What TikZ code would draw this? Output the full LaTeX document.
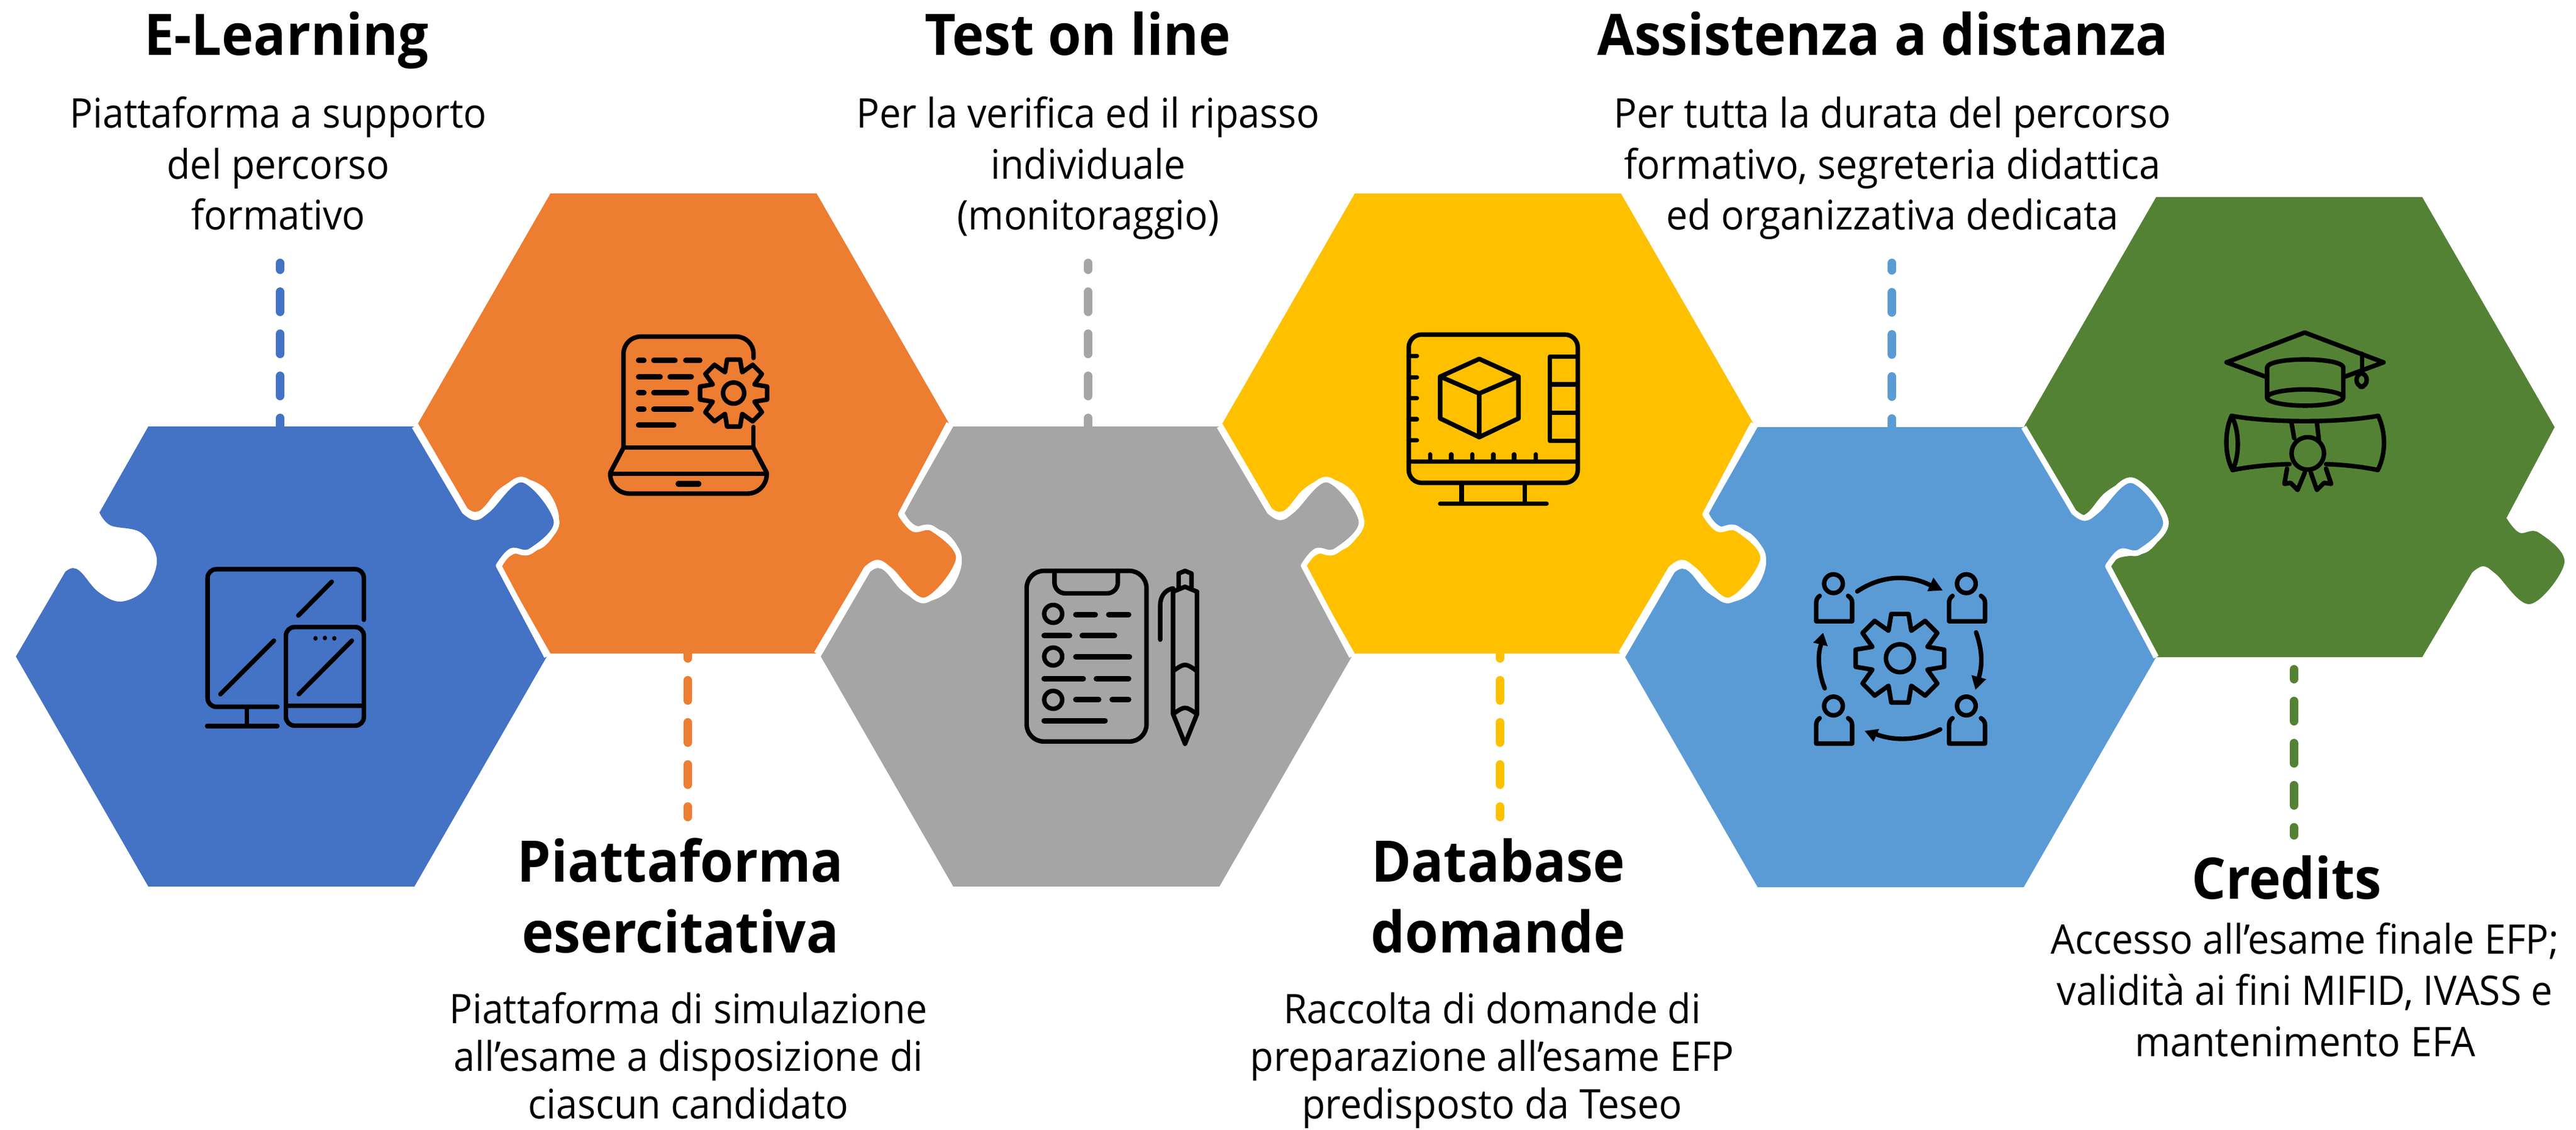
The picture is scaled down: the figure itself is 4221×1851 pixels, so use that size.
\documentclass[tikz,border=0pt]{standalone}
\usepackage{fontspec}
\setmainfont[FakeStretch=0.94]{Open Sans}
\definecolor{cblue}{HTML}{4472C4}
\definecolor{corange}{HTML}{ED7D31}
\definecolor{cgray}{HTML}{A5A5A5}
\definecolor{cyellow}{HTML}{FFC000}
\definecolor{cteal}{HTML}{5B9BD5}
\definecolor{cgreen}{HTML}{548235}
\tikzset{
  icon/.style={draw=black,line width=2.1pt,line cap=round,line join=round},
  dashline/.style={line width=4pt,line cap=round,dash pattern=on 33*0.2845pt off 36*0.2845pt},
  headtext/.style={font=\fontsize{26.7pt}{33pt}\selectfont\bfseries,align=center,inner sep=0pt},
  bodytext/.style={font=\fontsize{19pt}{23.8pt}\selectfont,align=center,inner sep=0pt},
  bodytight/.style={font=\fontsize{19pt}{22.3pt}\selectfont,align=center,inner sep=0pt},
}
\newcommand\bfirst{\rule{0pt}{15pt}}
\newcommand\blast{\rule[-5pt]{0pt}{5pt}}
\newcommand\hfirst{\rule{0pt}{20pt}}
\newcommand\hlast{\rule[-6pt]{0pt}{6pt}}
\def\tabpts{(300,-238) (318,-228) (339,-241) (395,-290) (451,-222) (409,-173) (377,-173) (356,-149)}
\newcommand\piecefill[4]{% cx cy sy colour
  \fill[#4,shift={(#1,#2)},yscale=#3] (-218,-377) -- (218,-377) -- plot[smooth,tension=0.6] coordinates {\tabpts} -- (435,0) -- (218,377) -- (-218,377) -- (-435,0)
   -- plot[smooth,tension=0.6] coordinates {(-354,-139) (-342,-145) (-328,-138) (-300,-106) (-263,-90) (-222,-111) (-204,-160) (-230,-203) (-280,-215) (-298,-236)} -- cycle;}
\newcommand\piecetab[3]{% cx cy sy : white outline along tab edge
  \draw[white,line width=2.6pt,line join=round,shift={(#1,#2)},yscale=#3] (218,-377) -- plot[smooth,tension=0.6] coordinates {\tabpts} -- (435,0);}
\newcommand\gearicon[3]{% cx cy R
  \draw[icon] ([shift={(#1,#2)}]-11:#3) \foreach \a in {0,45,...,315} { -- ([shift={(#1,#2)}]\a-11:#3) -- ([shift={(#1,#2)}]\a+11:#3) -- ([shift={(#1,#2)}]\a+22.5:#3*0.66) } -- cycle;
  \draw[icon] (#1,#2) circle[radius=#3*0.31];}
\begin{document}
\begin{tikzpicture}[x=0.1mm,y=-0.1mm]
\useasboundingbox (0,0) rectangle (4221,1851);
% named anchors
\coordinate (hexA) at (461,1076);
\coordinate (hexB) at (1120,694);
\coordinate (hexC) at (1780,1076);
\coordinate (hexD) at (2438,694);
\coordinate (hexE) at (3098,1077);
\coordinate (hexF) at (3751,700);
\coordinate (dashAtop) at (459,431);  \coordinate (dashAbot) at (459,699);
\coordinate (dashBtop) at (1127,1071); \coordinate (dashBbot) at (1127,1339);
\coordinate (dashCtop) at (1783,431); \coordinate (dashCbot) at (1783,699);
\coordinate (dashDtop) at (2458,1071); \coordinate (dashDbot) at (2458,1339);
\coordinate (dashEtop) at (3100,431); \coordinate (dashEbot) at (3100,700);
\coordinate (dashFtop) at (3759,1097); \coordinate (dashFbot) at (3759,1369);
% connectors
\draw[dashline,cblue,dash phase=19*0.2845pt] (dashAbot) -- (dashAtop);
\draw[dashline,corange,dash phase=25*0.2845pt] (dashBtop) -- (dashBbot);
\draw[dashline,cgray,dash phase=19*0.2845pt] (dashCbot) -- (dashCtop);
\draw[dashline,cyellow,dash phase=25*0.2845pt] (dashDtop) -- (dashDbot);
\draw[dashline,cteal,dash phase=19*0.2845pt] (dashEbot) -- (dashEtop);
\draw[dashline,cgreen,dash phase=17*0.2845pt] (dashFtop) -- (dashFbot);
% pieces, right to left
\piecefill{3751}{700}{-1}{cgreen}
\piecefill{3098}{1077}{1}{cteal}
\piecetab{3098}{1077}{1}
\piecefill{2438}{694}{-1}{cyellow}
\piecetab{2438}{694}{-1}
\piecefill{1780}{1076}{1}{cgray}
\piecetab{1780}{1076}{1}
\piecefill{1120}{694}{-1}{corange}
\piecetab{1120}{694}{-1}
\piecefill{461}{1076}{1}{cblue}
\piecetab{461}{1076}{1}
% blue icon
\begin{scope}[shift={(0,650)},x=0.07015mm,y=-0.0542mm]
 \draw[icon,rounded corners=4pt] (850,675) -- (850,522) -- (485,522) -- (485,938) -- (648,938);
 \draw[icon] (577,938) -- (577,996) (484,996) -- (648,996);
 \draw[icon] (775,560) -- (697,662) (640,738) -- (515,900);
 \draw[icon,rounded corners=4pt] (668,697) rectangle (850,995);
 \draw[icon] (668,935) -- (850,935) (822,738) -- (698,900);
 \fill (737,731) circle[x radius=5,y radius=7] (759,730) circle[x radius=5,y radius=7] (781,731) circle[x radius=5,y radius=7];
\end{scope}
% gray icon
\begin{scope}[shift={(1300,650)},x=0.07015mm,y=-0.0542mm]
 \draw[icon,rounded corners=8pt] (545,527) rectangle (825,1043);
 \draw[icon,rounded corners=5pt] (610,527) -- (610,595) -- (758,595) -- (758,527);
 \foreach \yy in {657,786,917} \draw[icon] (607,\yy) circle[x radius=21,y radius=27];
 \draw[icon,line width=2.6pt] (660,659) -- (705,659) (737,659) -- (783,659) (586,723) -- (645,723) (675,723) -- (750,723)
   (660,787) -- (785,787) (586,853) -- (677,853) (708,853) -- (783,853) (660,916) -- (713,916) (745,916) -- (783,916) (586,980) -- (728,980);
 \draw[icon] (887,960) -- (887,590) -- (915,575) -- (943,590) -- (943,960) -- (915,1050) -- cycle;
 \draw[icon] (887,830) .. controls (915,805) .. (943,830) (887,960) .. controls (915,935) .. (943,960);
 \draw[icon] (900,578) -- (900,535) -- (915,527) -- (930,535) -- (930,578);
 \draw[icon] (887,580) .. controls (865,585) and (857,610) .. (857,630) -- (857,735);
\end{scope}
% orange icon
\begin{scope}[shift={(980,540)},x=0.0333mm,y=-0.0333mm]
 \draw[icon,rounded corners=8pt] (765,140) -- (765,35) -- (125,35) -- (125,582);
 \draw[icon] (125,582) -- (765,582) (765,480) -- (765,582);
 \draw[icon] (125,582) -- (60,705) (765,582) -- (830,705);
 \draw[icon] (60,710) -- (830,710);
 \draw[icon,rounded corners=9pt] (60,710) -- (60,808) -- (830,808) -- (830,710);
 \draw[icon,line width=2.6pt] (395,760) -- (495,760)
   (200,152) -- (225,152) (275,152) -- (378,152) (432,152) -- (500,152)
   (200,234) -- (305,234) (355,234) -- (458,234)
   (200,311) -- (225,311) (275,311) -- (435,311)
   (200,393) -- (225,393) (275,393) -- (458,393)
   (200,471) -- (372,471);
 \gearicon{667}{313}{168}
\end{scope}
% yellow icon
\begin{scope}[shift={(2290,530)},x=0.0333mm,y=-0.0333mm]
 \draw[icon,rounded corners=6pt] (55,55) rectangle (887,785);
 \draw[icon] (55,680) -- (887,680) (315,785) -- (315,887) (627,785) -- (627,887) (210,887) -- (733,887);
 \draw[icon] (887,163) -- (750,163) -- (750,578) -- (887,578) (750,300) -- (887,300) (750,440) -- (887,440);
 \foreach \yy in {160,265,368,472,576} \draw[icon] (55,\yy) -- (95,\yy);
 \foreach \xx in {160,264,368,472,574,680} \draw[icon] (\xx,680) -- (\xx,645);
 \draw[icon] (402,175) -- (595,262) -- (595,468) -- (402,560) -- (210,468) -- (210,262) -- cycle;
 \draw[icon] (210,262) -- (402,345) -- (595,262) (402,345) -- (402,560);
\end{scope}
% teal icon
\begin{scope}[shift={(2960,920)},x=0.0333mm,y=-0.0333mm]
 \foreach \dx/\dy in {0/0,654/0,0/602,654/602} {
  \begin{scope}[shift={(\dx,\dy)}]
   \draw[icon] (133,110) circle[radius=46];
   \draw[icon] (65,170) .. controls (52,180) and (48,190) .. (48,205) -- (48,295) -- (225,295) -- (225,205) .. controls (225,190) and (220,180) .. (205,170);
  \end{scope}}
 \draw[icon] (250,148) .. controls (380,60) and (520,70) .. (610,118);
 \fill (625,80) -- (670,143) -- (595,147) -- cycle;
 \draw[icon] (835,350) .. controls (870,450) and (865,520) .. (845,585);
 \fill (812,560) -- (885,580) -- (832,632) -- cycle;
 \draw[icon] (658,827) .. controls (550,885) and (430,885) .. (340,850);
 \fill (358,825) -- (287,835) -- (330,888) -- cycle;
 \draw[icon] (90,625) .. controls (55,540) and (55,450) .. (72,410);
 \fill (33,400) -- (82,352) -- (105,418) -- cycle;
 \gearicon{460}{477}{222}
\end{scope}
% green icon
\begin{scope}[shift={(3620,530)},x=0.0333mm,y=-0.0333mm]
 \draw[icon] (285,265) -- (85,192) -- (470,45) -- (858,192) -- (660,265);
 \draw[icon] (752,150) -- (752,240);
 \draw[icon,rounded corners=3pt] (725,245) rectangle (775,312);
 \draw[icon] (285,365) -- (285,215) .. controls (300,165) and (640,165) .. (660,215) -- (660,365);
 \draw[icon] (472,365) ellipse[x radius=188,y radius=40];
 \draw[icon] (110,455) .. controls (300,490) and (640,490) .. (832,455) .. controls (870,540) and (870,640) .. (830,722) .. controls (750,705) and (650,695) .. (575,693);
 \draw[icon] (395,693) .. controls (300,695) and (200,705) .. (115,722);
 \draw[icon] (110,455) .. controls (75,530) and (75,650) .. (115,722) .. controls (150,650) and (150,530) .. (110,455);
 \draw[icon] (405,490) -- (418,565) (530,490) -- (540,575);
 \draw[icon] (485,640) circle[radius=80];
 \draw[icon] (383,715) -- (370,790) -- (400,785) -- (435,820) -- (470,735) (500,735) -- (530,820) -- (565,785) -- (600,790) -- (575,715);
\end{scope}
% texts
\node[headtext,anchor=base] (tA) at (469,90) {E-Learning};
\node[bodytext] (bA) at (456,275.5) {\bfirst Piattaforma a supporto\\del percorso\\formativo\blast};
\node[headtext,anchor=base] (tC) at (1766,90) {Test on line};
\node[bodytext] (bC) at (1783,275.5) {\bfirst Per la verifica ed il ripasso\\individuale\\(monitoraggio)\blast};
\node[headtext,anchor=base] (tE) at (3085,90) {Assistenza a distanza};
\node[bodytext] (bE) at (3101,275.5) {\bfirst Per tutta la durata del percorso\\formativo, segreteria didattica\\ed organizzativa dedicata\blast};
\node[headtext] (tB) at (1115,1478) {\hfirst Piattaforma\\esercitativa\hlast};
\node[bodytight] (bB) at (1128,1738) {\bfirst Piattaforma di simulazione\\all’esame a disposizione di\\ciascun candidato\blast};
\node[headtext] (tD) at (2455,1478) {\hfirst Database\\domande\hlast};
\node[bodytight] (bD) at (2445,1738) {\bfirst Raccolta di domande di\\preparazione all’esame EFP\\predisposto da Teseo\blast};
\node[headtext,anchor=base] (tF) at (3747,1473) {Credits};
\node[bodytext] (bF) at (3777,1630) {\bfirst Accesso all’esame finale EFP;\\validità ai fini MIFID, IVASS e\\mantenimento EFA\blast};
\end{tikzpicture}
\end{document}
